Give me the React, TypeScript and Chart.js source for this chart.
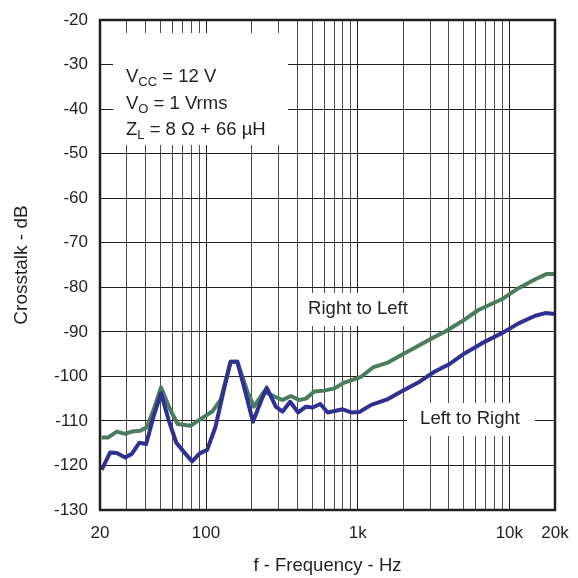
import React, { useEffect, useRef } from "react";
import { Chart, registerables } from "chart.js";

Chart.register(...registerables);

// Right to Left (green)
const rlFreq = [20.5, 22.7, 25.8, 29.3, 32.4, 36.8, 40.8, 45.1, 50.5, 58.1, 65, 78.9, 91.9, 109.8, 124.6, 145.2, 160.8, 187.3, 207.2, 241.3, 281, 319.5, 362.5, 411.4, 455.6, 517.1, 602.6, 701.5, 817, 1054, 1260, 1584, 1940, 2377, 2987, 3755, 4844, 6248, 8913, 11497, 14811, 17707, 20000];
const rlDb = [-113.7, -113.7, -112.4, -112.9, -112.4, -112.2, -111.4, -107.5, -102.5, -107.5, -110.7, -111.1, -109.6, -107.9, -105.3, -96.7, -96.7, -103.4, -106.8, -103.4, -104.5, -105.3, -104.4, -105.3, -105, -103.4, -103.2, -102.7, -101.4, -100.1, -98, -96.9, -95.2, -93.6, -91.7, -90, -87.7, -85.1, -82.7, -80.2, -78.2, -77, -77];

// Left to Right (blue)
const lrFreq = [20.5, 23.3, 25.8, 29.3, 32.4, 36.4, 40.3, 45.1, 50.5, 56.7, 63.7, 71.2, 81, 90.9, 101.8, 115.5, 131.1, 145.2, 160.8, 182.6, 204, 229.5, 251.4, 288.4, 319.5, 358.6, 405.1, 455.6, 504.6, 567, 634.6, 797.5, 905, 1027, 1228, 1584, 1940, 2503, 3224, 3955, 5093, 6570, 8913, 11497, 14811, 17256, 20000];
const lrDb = [-121, -117.1, -117.2, -118.2, -117.4, -114.9, -115.2, -109, -103.8, -109.8, -114.9, -116.9, -119.1, -117.3, -116.5, -111.3, -103, -96.7, -96.7, -103.8, -110.2, -105.7, -102.5, -106.8, -107.9, -105.7, -108.1, -106.8, -107, -106.2, -108.1, -107.4, -108.1, -108, -106.4, -105.1, -103.4, -101.4, -98.9, -97.4, -94.8, -92.6, -90.3, -88.1, -86.4, -85.8, -86];

const xGridValues = [20, 30, 40, 50, 60, 70, 80, 90, 100, 200, 300, 400, 500, 600, 700, 800, 900, 1000, 2000, 3000, 4000, 5000, 6000, 7000, 8000, 9000, 10000, 20000];
const xLabels: Record<number, string> = { 20: "20", 100: "100", 1000: "1k", 10000: "10k", 20000: "20k" };
const yMin = -130;
const yMax = -20;

const FONT = "'Liberation Sans', Arial, Helvetica, sans-serif";
const TEXT = "#231f20";

const annotationPlugin = {
  id: "annot",
  beforeDatasetsDraw(chart: any) {
    const { ctx } = chart;
    ctx.save();
    ctx.fillStyle = "#ffffff";
    ctx.fillRect(113, 33, 175, 112);
    ctx.fillRect(300, 293, 112, 33);
    ctx.fillRect(407, 403, 128, 33);

    ctx.fillStyle = TEXT;
    ctx.textBaseline = "alphabetic";
    const big = `18.5px ${FONT}`;
    const small = `13px ${FONT}`;
    const lines: [string, string, string][] = [
      ["V", "CC", " = 12 V"],
      ["V", "O", " = 1 Vrms"],
      ["Z", "L", " = 8 \u03A9 + 66 \u00B5H"],
    ];
    let y = 82;
    for (const [a, b, c] of lines) {
      let x = 126;
      ctx.font = big;
      ctx.fillText(a, x, y);
      x += ctx.measureText(a).width;
      ctx.font = small;
      ctx.fillText(b, x, y + 4);
      x += ctx.measureText(b).width;
      ctx.font = big;
      ctx.fillText(c, x, y);
      y += 26.5;
    }

    ctx.font = `18.5px ${FONT}`;
    ctx.textAlign = "center";
    ctx.textBaseline = "middle";
    ctx.fillText("Right to Left", 358, 309);
    ctx.fillText("Left to Right", 470, 419);
    ctx.restore();
  },
  afterDatasetsDraw(chart: any) {
    const { ctx, chartArea } = chart;
    ctx.save();
    ctx.strokeStyle = TEXT;
    ctx.lineWidth = 2.5;
    ctx.strokeRect(chartArea.left, chartArea.top, chartArea.right - chartArea.left, chartArea.bottom - chartArea.top);
    ctx.restore();
  },
};

export default function App() {
  const ref = useRef<HTMLCanvasElement | null>(null);

  useEffect(() => {
    document.body.style.margin = "0";
    const canvas = ref.current;
    if (!canvas) return;
    const chart = new Chart(canvas, {
      type: "line",
      data: {
        datasets: [
          {
            label: "Left to Right",
            data: lrFreq.map((f, i) => ({ x: f, y: lrDb[i] })),
            borderColor: "#2e3192",
            borderWidth: 4,
            pointRadius: 0,
            tension: 0,
            borderJoinStyle: "round",
            order: 0,
          },
          {
            label: "Right to Left",
            data: rlFreq.map((f, i) => ({ x: f, y: rlDb[i] })),
            borderColor: "#4a7d5e",
            borderWidth: 4,
            pointRadius: 0,
            tension: 0,
            borderJoinStyle: "round",
            order: 1,
          },
        ],
      },
      options: {
        animation: false,
        responsive: true,
        maintainAspectRatio: false,
        layout: { padding: { left: 0, right: 23, top: 20, bottom: 0 } },
        plugins: { legend: { display: false }, tooltip: { enabled: false } },
        scales: {
          x: {
            type: "logarithmic",
            min: 20,
            max: 20000,
            afterBuildTicks: (scale: any) => {
              scale.ticks = xGridValues.map((v) => ({ value: v }));
            },
            afterFit: (scale: any) => {
              scale.height = 68;
              scale.paddingLeft = 0;
              scale.paddingRight = 0;
            },
            ticks: {
              autoSkip: false,
              maxRotation: 0,
              padding: 13,
              color: TEXT,
              font: { family: FONT, size: 17 },
              callback: (value: any) => xLabels[Number(value)] ?? "",
            },
            grid: {
              drawTicks: false,
              color: (c: any) => {
                const v = c.tick?.value;
                return v === 100 || v === 1000 || v === 10000 ? "#231f20" : "#4a4a4a";
              },
              lineWidth: 1,
            },
            border: { display: false },
            title: {
              display: true,
              text: "f - Frequency - Hz",
              color: TEXT,
              font: { family: FONT, size: 18.5 },
              padding: { top: 0, bottom: 1 },
            },
          },
          y: {
            type: "linear",
            min: yMin,
            max: yMax,
            afterFit: (scale: any) => {
              scale.width = 100;
              scale.paddingTop = 0;
              scale.paddingBottom = 0;
            },
            ticks: {
              stepSize: 10,
              padding: 12,
              color: TEXT,
              font: { family: FONT, size: 17 },
            },
            grid: { drawTicks: false, color: "#231f20", lineWidth: 1 },
            border: { display: false },
            title: {
              display: true,
              text: "Crosstalk - dB",
              color: TEXT,
              font: { family: FONT, size: 19 },
              padding: { top: 10, bottom: 0 },
            },
          },
        },
      },
      plugins: [annotationPlugin],
    } as any);
    return () => chart.destroy();
  }, []);

  return (
    <div style={{ width: 578, height: 578, position: "relative" }}>
      <canvas ref={ref} />
    </div>
  );
}
